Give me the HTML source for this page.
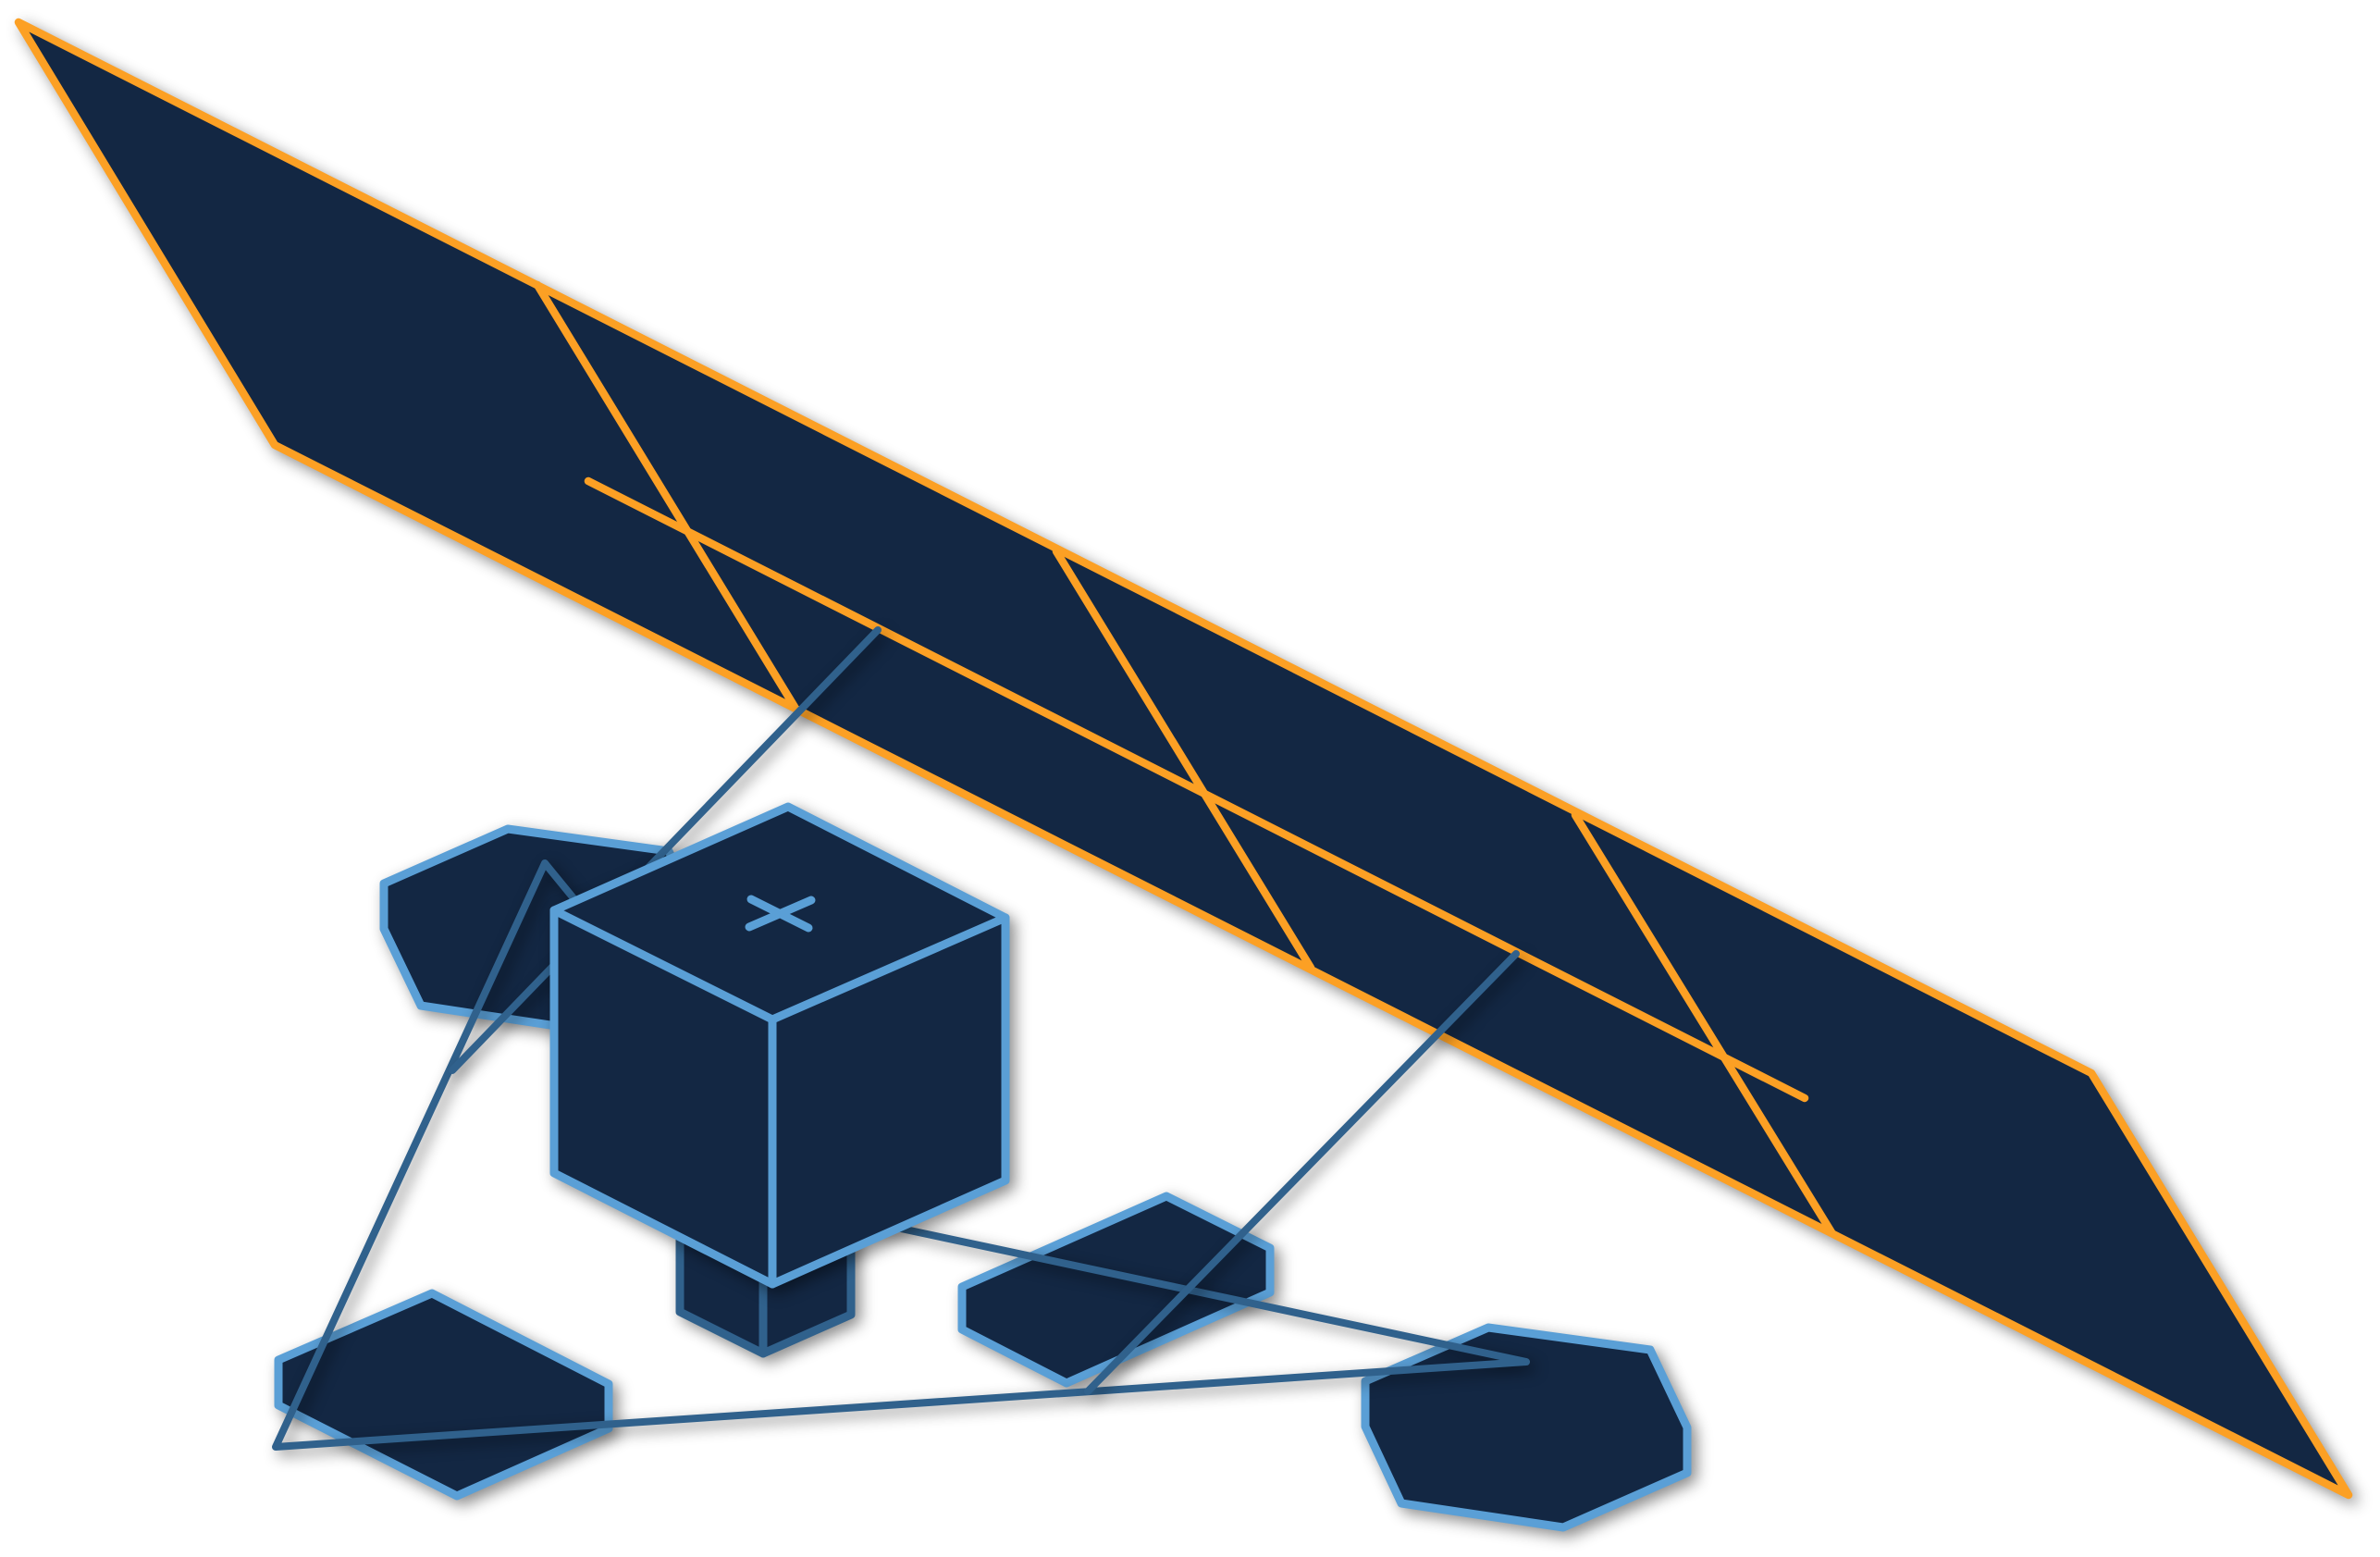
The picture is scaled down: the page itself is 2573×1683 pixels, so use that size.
<!DOCTYPE html>
<html>
<head>
<meta charset="utf-8">
<title>Diagram</title>
<style>
html,body{margin:0;padding:0;background:#fff;width:2573px;height:1683px;overflow:hidden}
svg{display:block}
.o{fill:none;stroke:#fca024;stroke-width:8.5;stroke-linecap:round;stroke-linejoin:round}
.b{fill:#132743;stroke:#5a9fd6;stroke-width:9;stroke-linejoin:round;stroke-linecap:round}
.d{fill:none;stroke:#30618c;stroke-width:8;stroke-linejoin:round;stroke-linecap:round}
.s{fill:#132743;stroke:#30618c;stroke-width:9;stroke-linejoin:round;stroke-linecap:round}
</style>
</head>
<body>
<svg width="2573" height="1683" viewBox="0 0 2573 1683" xmlns="http://www.w3.org/2000/svg">
<defs>
<filter id="sh" filterUnits="userSpaceOnUse" x="0" y="0" width="2573" height="1683" color-interpolation-filters="sRGB">
<feDropShadow dx="6" dy="6" stdDeviation="8" flood-color="#000" flood-opacity="0.45"/>
</filter>
</defs>
<rect width="2573" height="1683" fill="#fff"/>

<!-- orange panel -->
<polygon filter="url(#sh)" points="20,24 2261,1160 2539,1616 297,481" fill="#132743" stroke="#fca024" stroke-width="8.5" stroke-linejoin="round"/>
<line class="o" x1="581" y1="308" x2="859" y2="764"/>
<line class="o" x1="1142" y1="596" x2="1417" y2="1046"/>
<line class="o" x1="1703" y1="881" x2="1980" y2="1332"/>
<line class="o" x1="636" y1="520" x2="1951" y2="1187"/>

<!-- hexagons / octagons -->
<polygon class="b" filter="url(#sh)" points="415,955 549,896 723,920 763,1005 763,1054 628,1113 455,1087 415,1004"/>
<polygon class="b" filter="url(#sh)" points="1476,1493 1609,1435 1784,1459 1824,1543 1824,1592 1690,1651 1515,1625 1476,1542"/>
<polygon class="b" filter="url(#sh)" points="301,1470 467,1398 658,1496 658,1544 494,1617 301,1519"/>
<polygon class="b" filter="url(#sh)" points="1040,1391 1261,1293 1373,1349 1373,1397 1153,1495 1040,1437"/>

<!-- small cube -->
<g filter="url(#sh)">
<polygon class="s" points="735,1340 920,1340 920,1421 825,1463 735,1418"/>
<line class="s" x1="825" y1="1380" x2="825" y2="1463"/>
</g>

<!-- connectors -->
<polyline class="d" filter="url(#sh)" points="589,933 899,1312 1650,1472 298,1564 589,933"/>
<line class="d" filter="url(#sh)" x1="949" y1="681" x2="489" y2="1157"/>
<line class="d" filter="url(#sh)" x1="1639" y1="1031" x2="1176" y2="1504"/>

<!-- main cube -->
<polygon class="b" filter="url(#sh)" points="852,872 1087,992 1087,1276 835,1388 599,1268 599,984"/>
<polyline class="b" style="fill:none" points="599,984 835,1102 1087,992"/>
<line class="b" x1="835" y1="1102" x2="835" y2="1388"/>
<line class="b" x1="812" y1="972" x2="874" y2="1003"/>
<line class="b" x1="877" y1="973" x2="810" y2="1002"/>
</svg>
</body>
</html>
